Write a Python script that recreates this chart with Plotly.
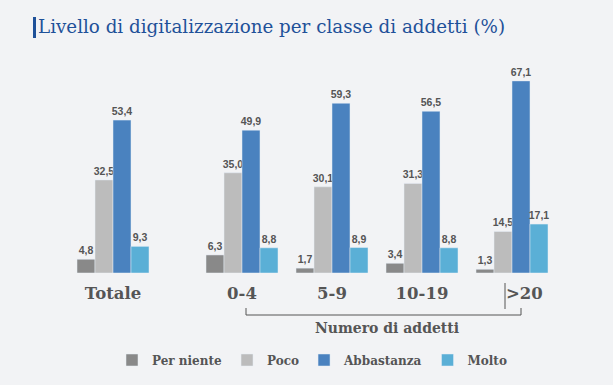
import plotly.graph_objects as go

categories = ["Totale", "0-4", "5-9", "10-19", ">20"]
tick_labels = ["Totale", "0-4", "5-9", "10-19", "\u2003\u2002>20"]
series_names = ["Per niente", "Poco", "Abbastanza", "Molto"]
per_niente = [4.8, 6.3, 1.7, 3.4, 1.3]
poco = [32.5, 35.0, 30.1, 31.3, 14.5]
abbastanza = [53.4, 49.9, 59.3, 56.5, 67.1]
molto = [9.3, 8.8, 8.9, 8.8, 17.1]
colors = ["#898989", "#bcbcbc", "#4a82bf", "#5aafd6"]

W, H = 613, 385
def px(x):
    return x / W
def py(y):
    return 1 - y / H

fig = go.Figure()
values = [per_niente, poco, abbastanza, molto]
label_font = dict(family="Liberation Sans, Arial", size=10.5, color="#555555", weight="bold")
for name, vals, col in zip(series_names, values, colors):
    fig.add_trace(go.Bar(x=categories[:1], y=vals[:1], name=name, marker_color=col,
                         legendgroup=name, xaxis="x", yaxis="y",
                         texttemplate="%{y:.1f}", textposition="outside",
                         constraintext="none", textangle=0,
                         textfont=label_font, cliponaxis=False, hoverinfo="skip"))
    fig.add_trace(go.Bar(x=categories[1:], y=vals[1:], name=name, marker_color=col,
                         legendgroup=name, showlegend=False, xaxis="x2", yaxis="y",
                         texttemplate="%{y:.1f}", textposition="outside",
                         constraintext="none", textangle=0,
                         textfont=label_font, cliponaxis=False, hoverinfo="skip"))

tick_font = dict(family="DejaVu Serif", size=16.5, color="#555555", weight="bold")
fig.update_layout(
    width=W, height=H,
    margin=dict(l=0, r=0, t=0, b=0),
    paper_bgcolor="#f2f3f5", plot_bgcolor="#f2f3f5",
    separators=",.",
    barmode="group", bargap=0.2, bargroupgap=0,
    uniformtext=dict(minsize=10, mode="show"),
    xaxis=dict(domain=[px(68), px(158)], showgrid=False, zeroline=False, showline=False,
               tickfont=tick_font, ticklabelstandoff=8,
               tickvals=categories[:1], ticktext=tick_labels[:1]),
    xaxis2=dict(domain=[px(197), px(557)], anchor="y", showgrid=False, zeroline=False,
                showline=False, tickfont=tick_font, ticklabelstandoff=8,
                tickvals=categories[1:], ticktext=tick_labels[1:]),
    yaxis=dict(domain=[py(273), py(66)], range=[0, 72.3], visible=False),
    showlegend=True,
    legend=dict(orientation="h", x=px(312), xanchor="center", y=py(360), yanchor="middle",
                font=dict(family="DejaVu Serif", size=12, color="#555555", weight="bold"),
                bgcolor="rgba(0,0,0,0)", itemwidth=30, traceorder="normal"),
    title=dict(text="Livello di digitalizzazione per classe di addetti (%)",
               x=px(38), xanchor="left", y=py(27), yanchor="middle",
               font=dict(family="DejaVu Serif", size=18.3, color="#1f5199")),
)

# title marker bar
fig.add_shape(type="rect", xref="paper", yref="paper", x0=px(33), x1=px(36),
              y0=py(17), y1=py(38), fillcolor="#1f5199", line_width=0)
# bracket under groups
fig.add_shape(type="path", xref="paper", yref="paper",
              path=f"M {px(246)},{py(308)} L {px(246)},{py(315)} L {px(521)},{py(315)} L {px(521)},{py(308)}",
              line=dict(color="#555555", width=1))
# bar before >20
fig.add_shape(type="line", xref="paper", yref="paper", x0=px(505), x1=px(505),
              y0=py(283), y1=py(309), line=dict(color="#555555", width=1))
fig.add_annotation(text="Numero di addetti", xref="paper", yref="paper",
                   x=px(387), y=py(328), xanchor="center", yanchor="middle", showarrow=False,
                   font=dict(family="DejaVu Serif", size=14, color="#555555", weight="bold"))

fig.write_html("out.html", config={"displayModeBar": False},
               post_script="document.body.style.margin='0';document.body.style.background='#f2f3f5';")
